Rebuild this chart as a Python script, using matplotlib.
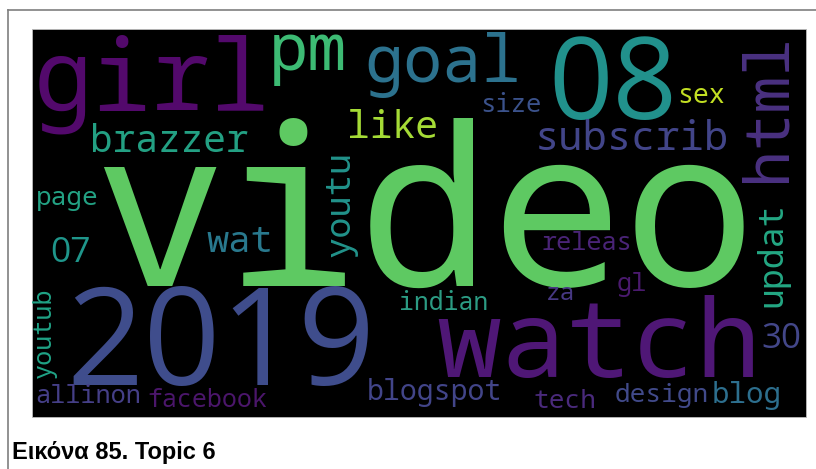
import matplotlib
matplotlib.use("Agg")
import matplotlib.pyplot as plt
from matplotlib.patches import Rectangle

# ---- data: words, relative weights (font size relative to top word), colours
words = ["video", "2019", "08", "watch", "girl", "goal", "pm", "html",
         "subscrib", "like", "brazzer", "wat", "youtu", "07", "updat",
         "30", "blog", "blogspot", "page", "size", "sex", "design", "tech",
         "gl", "releas", "youtub", "allinon", "facebook", "indian", "za"]
weights = [1.00, 0.612, 0.51, 0.49, 0.445, 0.295, 0.295, 0.28,
           0.183, 0.172, 0.171, 0.168, 0.16, 0.16, 0.158,
           0.158, 0.132, 0.128, 0.118, 0.116, 0.12, 0.118, 0.118,
           0.115, 0.114, 0.114, 0.114, 0.113, 0.112, 0.11]
colors = ["#5ec962", "#3f4d8c", "#21918c", "#4f1776", "#53096c", "#2c728e",
          "#3dbb74", "#4a3181", "#424589", "#a5db36", "#23a083", "#29798e",
          "#22938b", "#1f968b", "#24a884", "#434789", "#2d6f8e", "#424589",
          "#23a284", "#3b528b", "#c2df23", "#414a8a", "#4a2a7c", "#4a1a6e",
          "#4a2477", "#20a386", "#453f87", "#4b166b", "#2c9c84", "#473883"]
rotations = [0, 0, 0, 0, 0, 0, 0, 90,
             0, 0, 0, 0, 90, 0, 90,
             0, 0, 0, 0, 0, 0, 0, 0,
             0, 0, 90, 0, 0, 0, 0]

# ---- layout (anchor = centre of the baseline, in pixel coordinates)
layout_x = [424, 221, 613, 599, 152, 443, 308, 784,
            632, 392, 169, 240, 349, 70, 781,
            781, 747, 434, 67, 511, 701, 662, 565,
            632, 587, 51, 88, 207, 444, 561]
layout_y = [286, 385, 119, 377, 110, 82, 70, 108,
            150, 138, 152, 252, 204, 262, 255,
            348, 403, 400, 205, 112, 103, 402, 408,
            291, 250, 333, 403, 407, 310, 300]

W, H = 816, 469
TOP_PX = 221  # em size (px) of the largest word
WORD_FONT = ["Droid Sans Mono", "Noto Sans Mono", "DejaVu Sans Mono"]
DIGIT_FONT = ["Open Sans", "Noto Sans", "DejaVu Sans"]

fig = plt.figure(figsize=(W / 100, H / 100), dpi=100)
ax = fig.add_axes([0, 0, 1, 1])
ax.set_xlim(0, W)
ax.set_ylim(H, 0)
ax.axis("off")

# outer frame of the figure cell
ax.plot([8, W], [10, 10], color="#7f7f7f", lw=1.2)
ax.plot([8, 8], [10, H], color="#7f7f7f", lw=1.2)

# black word-cloud canvas
ax.add_patch(Rectangle((32, 29), 806 - 32, 417 - 29, facecolor="black",
                       edgecolor="#bbbbbb", lw=0.6))

for w, wt, c, r, x, y in zip(words, weights, colors, rotations, layout_x, layout_y):
    fam = DIGIT_FONT if w.isdigit() else WORD_FONT
    ax.text(x, y, w, fontsize=wt * TOP_PX * 0.72, color=c,
            family=fam, rotation=r, rotation_mode="anchor",
            ha="center", va="baseline")

ax.text(12, 459, "Εικόνα 85. Topic 6", fontsize=17, fontweight="bold",
        family="Liberation Sans", color="black", ha="left", va="baseline")

fig.savefig("out.png", dpi=100)
